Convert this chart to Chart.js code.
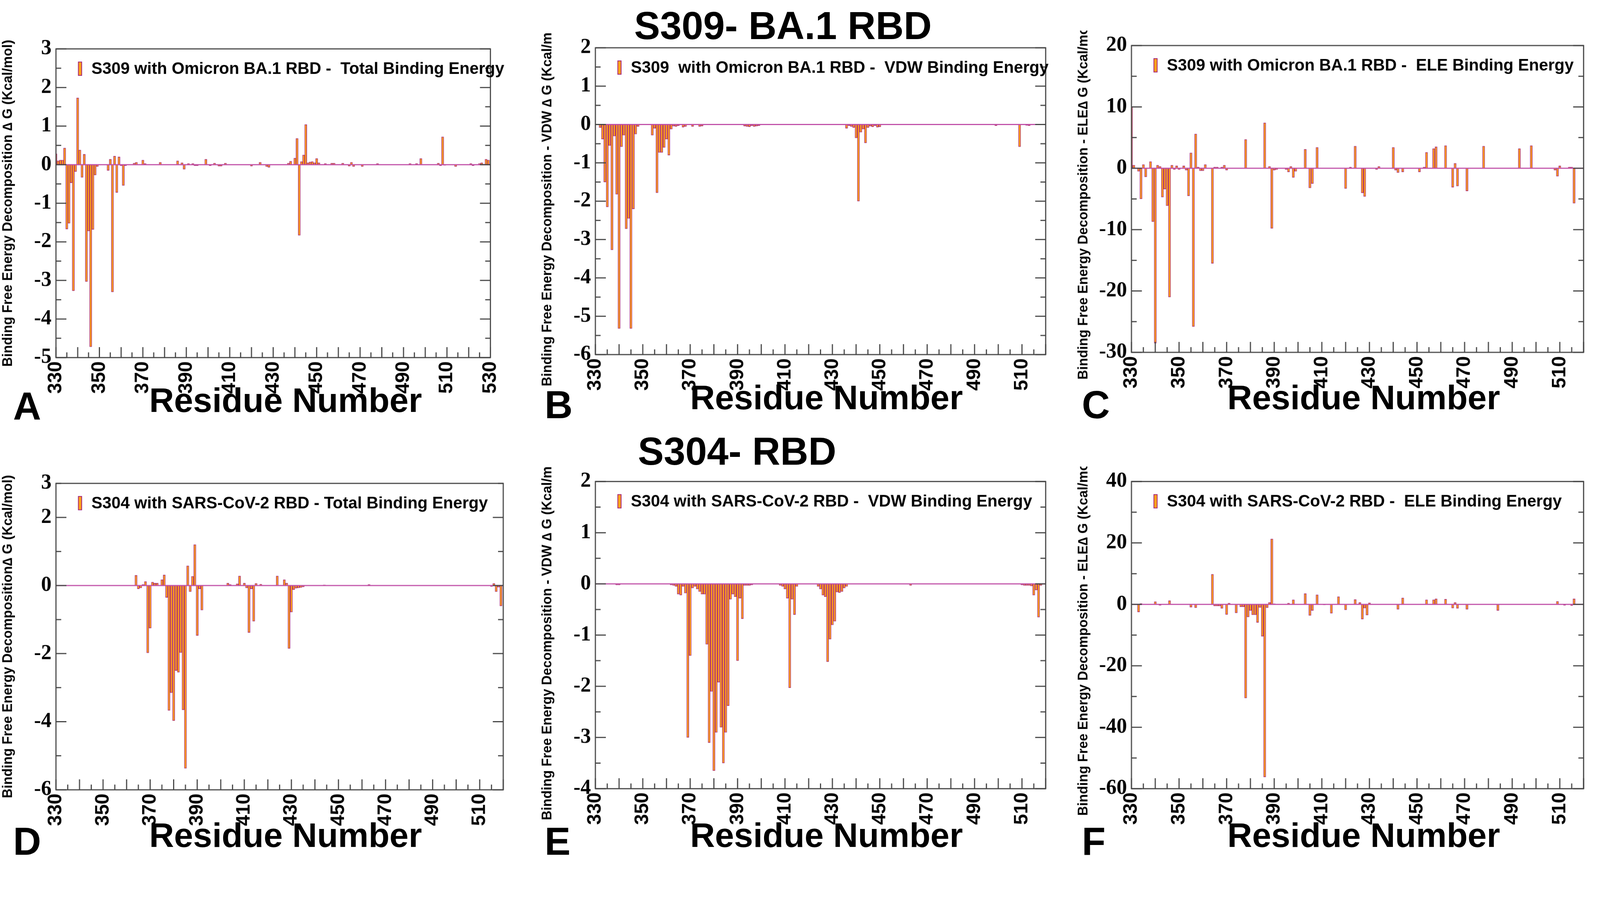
<!DOCTYPE html>
<html>
<head>
<meta charset="utf-8">
<script src="https://cdn.jsdelivr.net/npm/chart.js@4"></script>
<style>
body { margin: 0; background: #fff; overflow: hidden; font-family: "Liberation Sans", Arial, sans-serif; }
#wrap { position: relative; width: 4291px; height: 2313px; transform: scale(0.955); transform-origin: 0 0; }
canvas { position: absolute; }
.lbl { position: absolute; font-weight: bold; color: #000; white-space: nowrap; }
</style>
</head>
<body>
<div id="wrap">
<div class="lbl" style="left:1700px;top:10px;font-size:104px;">S309- BA.1 RBD</div>
<div class="lbl" style="left:1710px;top:1150px;font-size:104px;">S304- RBD</div>

<div class="lbl" style="left:400px;top:1020px;font-size:92px;">Residue Number</div>
<div class="lbl" style="left:1850px;top:1012px;font-size:92px;">Residue Number</div>
<div class="lbl" style="left:3290px;top:1012px;font-size:92px;">Residue Number</div>
<div class="lbl" style="left:400px;top:2185px;font-size:92px;">Residue Number</div>
<div class="lbl" style="left:1850px;top:2185px;font-size:92px;">Residue Number</div>
<div class="lbl" style="left:3290px;top:2185px;font-size:92px;">Residue Number</div>

<div class="lbl" style="left:35px;top:1030px;font-size:104px;">A</div>
<div class="lbl" style="left:1460px;top:1025px;font-size:104px;">B</div>
<div class="lbl" style="left:2900px;top:1025px;font-size:104px;">C</div>
<div class="lbl" style="left:35px;top:2195px;font-size:104px;">D</div>
<div class="lbl" style="left:1460px;top:2195px;font-size:104px;">E</div>
<div class="lbl" style="left:2900px;top:2195px;font-size:104px;">F</div>

<canvas id="cA"></canvas>
<canvas id="cB"></canvas>
<canvas id="cC"></canvas>
<canvas id="cD"></canvas>
<canvas id="cE"></canvas>
<canvas id="cF"></canvas>
</div>

<script>
// residue numbers and per-residue energies (residues not listed are ~0)
var aRes = [330,331,332,333,334,335,336,337,338,339,340,341,342,343,344,345,346,347,348,349,354,355,356,357,358,359,360,361,362,366,367,370,371,378,386,388,389,391,393,394,395,399,401,403,405,406,408,420,424,427,428,437,438,440,441,442,443,444,445,446,447,448,449,450,451,454,457,458,462,465,466,467,471,478,493,496,498,506,507,508,509,514,521,522,525,526,528,529];
var aVal = [0.28,0.1,0.12,0.12,0.43,-1.67,-1.52,-0.47,-3.27,-0.18,1.73,0.38,-0.33,0.27,-3.03,-1.72,-4.72,-1.68,-0.27,-0.05,-0.15,0.14,-3.3,0.22,-0.72,0.2,-0.03,-0.54,-0.03,0.04,0.06,0.12,0.03,0.06,0.1,0.05,-0.12,0.03,0.03,-0.03,-0.03,0.14,-0.03,0.04,-0.04,-0.04,0.04,-0.04,0.06,-0.05,-0.07,0.04,0.09,0.17,0.68,-1.83,0.08,0.25,1.04,0.05,0.07,0.08,0.05,0.16,0.05,0.03,0.04,0.04,0.04,-0.04,0.06,-0.05,-0.05,0.03,0.03,0.03,0.16,0.04,-0.03,0.72,-0.02,-0.05,0.03,-0.03,0.03,0.05,0.14,0.12];

var bRes = [332,333,334,335,336,337,338,339,340,341,342,343,344,345,346,347,348,354,355,356,357,358,359,360,361,362,363,364,365,367,368,371,374,375,393,394,395,396,397,398,399,436,437,438,439,440,441,442,443,444,445,446,447,448,449,450,499,509,512,513];
var bVal = [-0.08,-0.38,-1.5,-2.15,-0.55,-3.27,-0.3,-1.82,-5.32,-0.58,-0.28,-2.72,-2.45,-5.32,-2.2,-0.25,-0.05,-0.28,-0.1,-1.78,-0.73,-0.73,-0.6,-0.38,-0.8,-0.12,-0.04,-0.05,-0.03,-0.07,-0.05,-0.05,-0.05,-0.04,-0.04,-0.05,-0.06,-0.03,-0.05,-0.04,-0.03,-0.1,-0.03,-0.05,-0.08,-0.35,-2.0,-0.2,-0.12,-0.48,-0.08,-0.04,-0.06,-0.03,-0.07,-0.06,-0.03,-0.58,-0.02,-0.03];

var cRes = [330,331,333,334,335,336,338,339,340,341,342,343,344,345,346,347,348,349,350,352,353,354,355,356,357,358,359,360,361,364,365,366,368,369,370,378,386,388,389,390,391,395,396,397,398,399,403,405,406,408,420,422,424,427,428,433,434,440,441,442,444,451,453,454,457,458,462,465,466,467,471,478,493,498,508,509,510,514,515,516];
var cVal = [10,0.5,-0.5,-5,0.6,-1.4,1.1,-8.7,-28.5,0.5,0.3,-4.7,-3.4,-6.1,-21,0.5,-0.2,0.4,-0.2,0.4,-0.3,-4.5,2.5,-25.8,5.6,0.2,-0.4,-0.4,0.6,-15.5,0.2,0.2,0.2,0.5,-0.3,4.7,7.4,0.3,-9.8,-0.3,-0.2,-0.2,-0.6,0.3,-1.5,-0.5,3.1,-3.2,-2.5,3.4,-3.3,0.2,3.6,-4.0,-4.6,-0.2,0.3,3.4,-0.3,-0.7,-0.6,-0.6,0.2,2.6,3.2,3.5,3.7,-3.1,0.8,-2.9,-3.7,3.6,3.2,3.7,-0.3,-1.3,0.4,0.2,0.2,-5.7];

var dRes = [364,365,366,367,368,369,370,371,372,373,375,376,377,378,379,380,381,382,383,384,385,386,387,388,389,390,391,392,403,404,407,408,410,411,412,413,414,415,417,424,427,428,429,430,431,432,433,434,435,444,463,515,516,517,518,519];
var dVal = [0.3,-0.1,-0.07,0.03,0.12,-1.98,-1.25,0.1,0.07,0.07,0.17,0.31,-0.35,-3.67,-3.15,-3.97,-2.5,-2.55,-1.97,-3.65,-5.37,0.58,-0.18,0.27,1.2,-1.47,-0.1,-0.72,0.07,0.03,0.05,0.28,0.07,-0.07,-1.38,-0.1,-1.05,0.06,0.04,0.28,0.17,0.07,-1.85,-0.78,-0.12,-0.08,-0.07,-0.06,-0.04,0.02,0.03,-0.03,0.06,-0.18,-0.05,-0.6];

var eRes = [339,340,362,363,364,365,366,367,368,369,370,371,372,373,374,375,376,377,378,379,380,381,382,383,384,385,386,387,388,389,390,391,392,393,394,395,396,408,409,410,411,412,413,414,415,424,425,426,427,428,429,430,431,432,433,434,435,436,463,510,511,512,513,514,515,516,517,518];
var eVal = [-0.02,-0.02,-0.02,-0.03,-0.05,-0.2,-0.22,-0.05,-0.18,-3.0,-1.4,-0.08,-0.05,-0.1,-0.15,-0.2,-0.2,-1.18,-3.1,-2.1,-3.65,-2.9,-1.92,-2.8,-3.5,-2.9,-2.38,-0.3,-0.2,-0.25,-1.5,-0.28,-0.68,-0.03,-0.03,-0.03,-0.02,-0.03,-0.05,-0.1,-0.28,-2.03,-0.3,-0.6,-0.05,-0.05,-0.1,-0.22,-0.25,-1.52,-1.08,-0.8,-0.73,-0.16,-0.17,-0.15,-0.08,-0.05,-0.03,-0.02,-0.03,-0.03,-0.03,-0.04,-0.22,-0.12,-0.65,-0.03];

var fRes = [333,334,340,342,346,355,357,364,365,366,367,368,370,371,374,376,377,378,379,380,381,382,383,384,385,386,387,388,389,390,396,398,403,405,406,408,411,414,417,420,424,426,427,428,429,430,442,444,454,457,458,462,465,466,467,471,484,509,512,515,516];
var fVal = [-2.5,0.3,0.9,-0.3,1.2,-0.9,-1.1,9.8,-0.5,-0.5,-0.5,-1.3,-3.3,0.4,-2.8,-0.8,-0.8,-30.5,-4.1,-2.0,-3.4,-3.4,-5.9,-1.0,-10.4,-56.2,-1.1,0.6,21.3,0.2,0.4,1.5,3.5,-3.6,-2.0,3.1,-0.2,-2.9,2.5,-1.8,1.6,0.6,-4.8,-1.2,-3.5,0.5,-1.6,2.1,1.5,1.5,1.8,1.7,-1.2,0.6,-1.3,-1.6,-2.0,1.0,-0.3,-0.4,1.8];

var yTitleTotal = "Binding Free Energy Decomposition \u2206 G (Kcal/mol)";

var panels = [
	{ id: "cA", res: aRes, val: aVal, xmax: 530, ymin: -5, ymax: 3, step: 1,
	  label: "S309 with Omicron BA.1 RBD -  Total Binding Energy", ytitle: yTitleTotal,
	  left: 150, top: 131, w: 1199, h: 827 },
	{ id: "cB", res: bRes, val: bVal, xmax: 520, ymin: -6, ymax: 2, step: 1,
	  label: "S309  with Omicron BA.1 RBD -  VDW Binding Energy", ytitle: "Binding Free Energy Decomposition - VDW \u2206 G (Kcal/mol)",
	  left: 1596, top: 128, w: 1207, h: 822 },
	{ id: "cC", res: cRes, val: cVal, xmax: 520, ymin: -30, ymax: 20, step: 10,
	  label: "S309 with Omicron BA.1 RBD -  ELE Binding Energy", ytitle: "Binding Free Energy Decomposition - ELE\u2206 G (Kcal/mol)",
	  left: 3033, top: 122, w: 1212, h: 822 },
	{ id: "cD", res: dRes, val: dVal, xmax: 520, ymin: -6, ymax: 3, step: 2,
	  label: "S304 with SARS-CoV-2 RBD - Total Binding Energy", ytitle: "Binding Free Energy Decomposition\u2206 G (Kcal/mol)",
	  left: 150, top: 1295, w: 1199, h: 821 },
	{ id: "cE", res: eRes, val: eVal, xmax: 520, ymin: -4, ymax: 2, step: 1,
	  label: "S304 with SARS-CoV-2 RBD -  VDW Binding Energy", ytitle: "Binding Free Energy Decomposition - VDW \u2206 G (Kcal/mol)",
	  left: 1596, top: 1290, w: 1207, h: 823 },
	{ id: "cF", res: fRes, val: fVal, xmax: 520, ymin: -60, ymax: 40, step: 20,
	  label: "S304 with SARS-CoV-2 RBD -  ELE Binding Energy", ytitle: "Binding Free Energy Decomposition - ELE\u2206 G (Kcal/mol)",
	  left: 3033, top: 1290, w: 1212, h: 823 }
];

var Y_W = 150, X_H = 140, PAD_T = 40, PAD_R = 30;

// box, inward ticks, zero line and the inline legend
var framePlugin = {
	id: "frame",
	afterDatasetsDraw: function (chart) {
		var ctx = chart.ctx, a = chart.chartArea;
		var xs = chart.scales.x, ys = chart.scales.y;
		ctx.save();
		// zero line
		var y0 = ys.getPixelForValue(0);
		ctx.strokeStyle = "#c050a8";
		ctx.lineWidth = 3;
		ctx.beginPath(); ctx.moveTo(a.left, y0); ctx.lineTo(a.right, y0); ctx.stroke();
		// box
		ctx.strokeStyle = "#444";
		ctx.lineWidth = 3;
		ctx.strokeRect(a.left, a.top, a.right - a.left, a.bottom - a.top);
		// y ticks (both sides)
		var st = ys.options.ticks.stepSize;
		for (var v = ys.min; v <= ys.max + 1e-9; v += st / 2) {
			var p = ys.getPixelForValue(v);
			var major = Math.abs(Math.round(v / st) * st - v) < 1e-9;
			var len = major ? 28 : 14;
			ctx.beginPath();
			ctx.moveTo(a.left, p); ctx.lineTo(a.left + len, p);
			ctx.moveTo(a.right, p); ctx.lineTo(a.right - len, p);
			ctx.stroke();
		}
		// x ticks along bottom
		for (var r = xs.min; r <= xs.max; r += 5) {
			var px = xs.getPixelForValue(r);
			var l = (r % 10 === 0) ? 28 : 14;
			ctx.beginPath(); ctx.moveTo(px, a.bottom); ctx.lineTo(px, a.bottom - l); ctx.stroke();
		}
		// legend
		var lx = a.left + 60, ly = a.top + 55;
		ctx.fillStyle = "#ffa21a";
		ctx.strokeStyle = "#a0207a";
		ctx.lineWidth = 2;
		ctx.fillRect(lx, ly - 20, 9, 36);
		ctx.strokeRect(lx, ly - 20, 9, 36);
		ctx.fillStyle = "#000";
		ctx.font = "bold 44px 'Liberation Sans Narrow', 'Liberation Sans', sans-serif";
		ctx.textBaseline = "middle";
		ctx.fillText(chart.data.datasets[0].label, lx + 35, ly);
		ctx.restore();
	}
};

panels.forEach(function (p) {
	var cv = document.getElementById(p.id);
	var cw = Y_W + p.w + PAD_R, ch = PAD_T + p.h + X_H;
	cv.style.left = (p.left - Y_W) + "px";
	cv.style.top = (p.top - PAD_T) + "px";
	cv.style.width = cw + "px";
	cv.style.height = ch + "px";
	cv.width = cw; cv.height = ch;

	var pts = [];
	for (var i = 0; i < p.res.length; i++) pts.push({ x: p.res[i], y: p.val[i] });

	new Chart(cv.getContext("2d"), {
		type: "bar",
		data: {
			datasets: [{
				label: p.label,
				data: pts,
				backgroundColor: "#ffa21a",
				borderColor: "#a0207a",
				borderWidth: 1.5,
				barThickness: 6
			}]
		},
		options: {
			responsive: false,
			animation: false,
			layout: { padding: { top: PAD_T, right: PAD_R, left: 0, bottom: 0 } },
			plugins: { legend: { display: false }, tooltip: { enabled: false } },
			scales: {
				x: {
					type: "linear",
					min: 330, max: p.xmax,
					offset: false,
					grid: { display: false },
					border: { display: false },
					ticks: {
						stepSize: 10,
						minRotation: 90, maxRotation: 90,
						color: "#000",
						font: { family: "Liberation Sans", size: 52, weight: "bold" },
						padding: 2
					},
					afterFit: function (s) { s.height = X_H; }
				},
				y: {
					min: p.ymin, max: p.ymax,
					grid: { display: false },
					border: { display: false },
					ticks: {
						stepSize: p.step,
						color: "#000",
						font: { family: "Liberation Sans Narrow", size: 56, weight: "bold" },
						padding: 4
					},
					title: {
						display: true,
						text: p.ytitle,
						color: "#000",
						font: { family: "Liberation Sans", size: 36, weight: "bold" },
						padding: 0
					},
					afterFit: function (s) { s.width = Y_W; }
				}
			}
		},
		plugins: [framePlugin]
	});
});
</script>
</body>
</html>
